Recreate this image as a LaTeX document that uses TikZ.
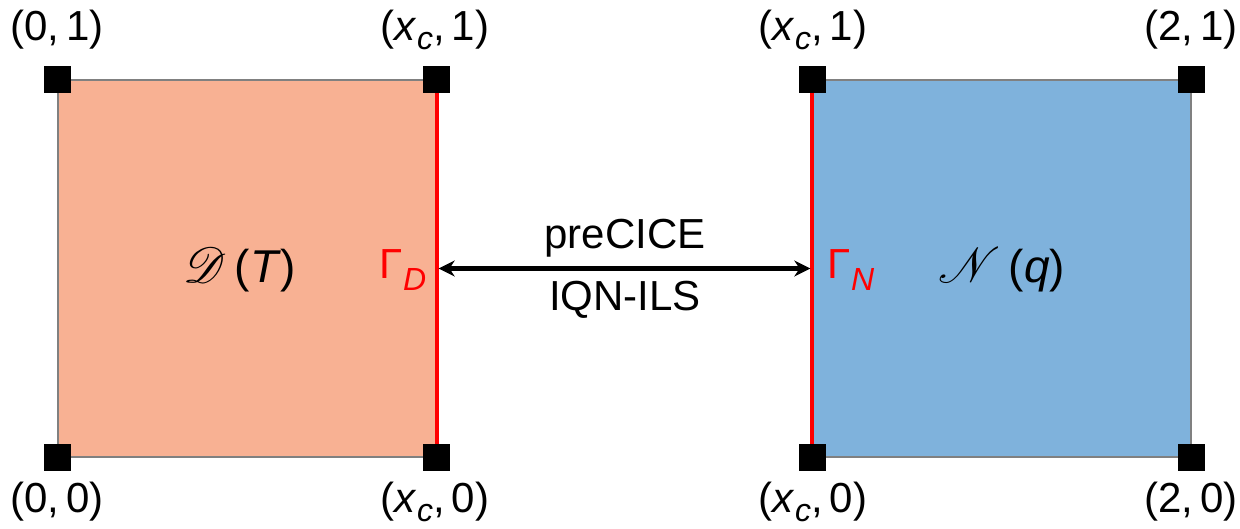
\documentclass[tikz,border=0pt]{standalone}
\usepackage{fontspec}
\setmainfont{Liberation Sans}
\usepackage{mathrsfs}
\usetikzlibrary{arrows.meta}
\definecolor{salmonfill}{HTML}{F8B193}
\definecolor{bluefill}{HTML}{7FB2DC}
\definecolor{ifred}{HTML}{FF0000}
\newcommand{\mysub}[2][0.3em]{\raisebox{-#1}{\fontsize{16}{18}\selectfont\textit{#2}}}
\begin{document}
\begin{tikzpicture}[x=0.5pt,y=-0.5pt,
  every node/.style={font=\fontsize{21}{25}\selectfont},
  regionbox/.style={draw=gray, line width=0.7pt, minimum width=189pt, minimum height=188.5pt, inner sep=0pt},
  cornerbox/.style={fill=black, minimum size=13.5pt, inner sep=0pt},
  iface/.style={draw=ifred, line width=2pt},
  link/.style={{Stealth[length=8pt,width=8pt]}-{Stealth[length=8pt,width=8pt]}, line width=2.2pt, shorten <=1pt, shorten >=1pt}]
\useasboundingbox (0,0) rectangle (1240,529);
% domains
\node[regionbox, fill=salmonfill] (dom) at (247,268.5) {};
\node[regionbox, fill=bluefill] (neu) at (1002,268.5) {};
\draw[iface] (dom.north east) -- (dom.south east);
\draw[iface] (neu.north west) -- (neu.south west);
% corners
\node[cornerbox] (c1) at (dom.north west) {};
\node[cornerbox] (c2) at (dom.north east) {};
\node[cornerbox] (c3) at (dom.south west) {};
\node[cornerbox] (c4) at (dom.south east) {};
\node[cornerbox] (c5) at (neu.north west) {};
\node[cornerbox] (c6) at (neu.north east) {};
\node[cornerbox] (c7) at (neu.south west) {};
\node[cornerbox] (c8) at (neu.south east) {};
% corner labels
\node (l1) at (57,30) {(0,\,1)};
\node (l2) at (435,30) {(\textit{x}\mysub[0.2em]{c},\,1)};
\node (l3) at (57,502) {(0,\,0)};
\node (l4) at (435,502) {(\textit{x}\mysub[0.2em]{c},\,0)};
\node (l5) at (813,30) {(\textit{x}\mysub[0.2em]{c},\,1)};
\node (l6) at (1191,30) {(2,\,1)};
\node (l7) at (813,502) {(\textit{x}\mysub[0.2em]{c},\,0)};
\node (l8) at (1191,502) {(2,\,0)};
% inner labels
\node[font=\fontsize{23}{27}\selectfont] (dl) at (240,270) {$\mathscr{D}$\,(\textit{T})};
\node[text=ifred] (gd) at (403,270) {Γ\mysub{D}};
\node[text=ifred] (gn) at (851,270) {Γ\mysub{N}};
\node[font=\fontsize{23}{27}\selectfont] (nl) at (1002,270) {$\mathscr{N}$\,(\textit{q})};
% coupling
\draw[link] (dom.east) -- (neu.west);
\node (pc) at (625,238) {preCICE};
\node (iq) at (625,300) {IQN-ILS};
\end{tikzpicture}
\end{document}
